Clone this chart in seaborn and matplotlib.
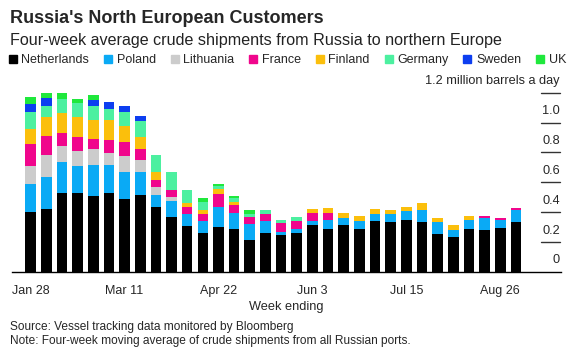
import seaborn as sns
import matplotlib.pyplot as plt
import pandas as pd
from matplotlib.lines import Line2D

# four-week average crude shipments, million barrels a day
countries = ["Netherlands", "Poland", "Lithuania", "France", "Finland", "Germany", "Sweden", "UK"]
colors = ["#000000", "#0aaaf5", "#cccccc", "#f0068c", "#fbbf0c", "#4cf0a0", "#0d3ef0", "#1fe83c"]

netherlands = [0.400, 0.422, 0.531, 0.531, 0.509, 0.531, 0.489, 0.513, 0.435, 0.369, 0.309, 0.262,
               0.302, 0.291, 0.213, 0.262, 0.245, 0.262, 0.315, 0.291, 0.315, 0.291, 0.338, 0.333,
               0.349, 0.333, 0.255, 0.235, 0.291, 0.280, 0.295, 0.333]
poland = [0.187, 0.211, 0.202, 0.180, 0.209, 0.187, 0.180, 0.155, 0.078, 0.107, 0.080, 0.078,
          0.133, 0.104, 0.105, 0.078, 0.024, 0.025, 0.025, 0.055, 0.047, 0.047, 0.051, 0.055,
          0.056, 0.080, 0.078, 0.049, 0.055, 0.080, 0.056, 0.080]
lithuania = [0.125, 0.153, 0.111, 0.102, 0.102, 0.077, 0.107, 0.080, 0.053, 0.029, 0, 0,
             0, 0, 0, 0, 0, 0, 0, 0, 0, 0, 0, 0,
             0, 0, 0, 0, 0, 0, 0, 0]
france = [0.142, 0.122, 0.089, 0.089, 0.071, 0.089, 0.091, 0.076, 0.053, 0.044, 0.047, 0.049,
          0.089, 0.053, 0.047, 0.049, 0.056, 0.055, 0.055, 0.049, 0, 0, 0, 0,
          0, 0, 0, 0, 0, 0.012, 0.013, 0.013]
finland = [0.105, 0.127, 0.131, 0.133, 0.127, 0.133, 0.109, 0.080, 0.049, 0, 0.025, 0.025,
           0.033, 0.020, 0, 0, 0, 0, 0.025, 0.031, 0.033, 0.035, 0.031, 0.025,
           0.027, 0.049, 0.031, 0.033, 0.027, 0, 0, 0]
germany = [0.111, 0.078, 0.093, 0.093, 0.091, 0.077, 0.093, 0.109, 0.118, 0.120, 0.089, 0.055,
           0.020, 0.025, 0.020, 0.025, 0.022, 0.023, 0, 0, 0, 0, 0, 0,
           0, 0, 0, 0, 0, 0, 0, 0]
sweden = [0.056, 0.053, 0, 0, 0.040, 0.045, 0.045, 0.033, 0, 0, 0, 0,
          0, 0, 0, 0, 0, 0, 0, 0, 0, 0, 0, 0,
          0, 0, 0, 0, 0, 0, 0, 0]
uk = [0.042, 0.053, 0.057, 0.033, 0.036, 0, 0, 0, 0, 0, 0, 0.023,
      0.013, 0.015, 0.029, 0, 0, 0, 0, 0, 0, 0, 0, 0,
      0, 0, 0, 0, 0, 0, 0, 0]

tick_weeks = [0, 6, 12, 18, 24, 30]
tick_labels = ["Jan 28", "Mar 11", "Apr 22", "Jun 3", "Jul 15", "Aug 26"]
y_levels = [0.2, 0.4, 0.6, 0.8, 1.0, 1.2]
y_labels = ["0.2", "0.4", "0.6", "0.8", "1.0", "1.2 million barrels a day"]

series = [netherlands, poland, lithuania, france, finland, germany, sweden, uk]
rows = []
for name, vals in zip(countries, series):
    for i, v in enumerate(vals):
        rows.append({"week": i, "country": name, "value": v})
df = pd.DataFrame(rows)

sns.set_style("white")
plt.rcParams["font.family"] = ["Liberation Sans", "DejaVu Sans"]

fig = plt.figure(figsize=(5.76, 3.55), dpi=100)
ax = fig.add_axes([12 / 576, 1 - 272 / 355, 549 / 576, 179.3 / 355])

# seaborn stacks the first hue level on top, so feed the order reversed
sns.histplot(data=df, x="week", weights="value", hue="country",
             hue_order=countries[::-1], palette=colors[::-1],
             multiple="stack", discrete=True, shrink=0.68,
             linewidth=0, alpha=1, legend=False, ax=ax)

ax.set_xlim(-1.19, 33.88)
ax.set_ylim(0, 1.2)
ax.set_yticks([])
ax.set_ylabel("")
for s in ["top", "right", "left"]:
    ax.spines[s].set_visible(False)
ax.spines["bottom"].set_color("black")
ax.spines["bottom"].set_linewidth(1)

ax.set_xticks(tick_weeks, tick_labels, fontsize=9)
ax.tick_params(axis="x", length=4, width=1, color="black", pad=5.5)
ax.set_xlabel("Week ending", fontsize=9.2, labelpad=3)

# short value markers on the right with labels sitting above them
ytr = ax.get_yaxis_transform()
ax.annotate("0", xy=(0.998, 0), xycoords=ytr, xytext=(0, 4), textcoords="offset points",
            ha="right", va="bottom", fontsize=9.2)
for v, lab in zip(y_levels, y_labels):
    ax.plot([0.9636, 0.998], [v, v], transform=ytr, color="#333333", lw=1, clip_on=False)
    ax.annotate(lab, xy=(0.998, v), xycoords=ytr, xytext=(0, 4), textcoords="offset points",
                ha="right", va="bottom", fontsize=9.2)

fig.text(10 / 576, 1 - 23 / 355, "Russia's North European Customers",
         fontsize=13, fontweight="bold", va="baseline")
fig.text(10 / 576, 1 - 45 / 355, "Four-week average crude shipments from Russia to northern Europe",
         fontsize=11.6, va="baseline", color="#222222")

handles = [Line2D([], [], marker="s", linestyle="", markersize=6, color=c) for c in colors]
fig.legend(handles, countries, loc="center left", bbox_to_anchor=(5 / 576, 1 - 60 / 355),
           ncol=8, frameon=False, fontsize=9, handletextpad=0.1, columnspacing=0.9,
           handlelength=1.2, borderaxespad=0, borderpad=0)

fig.text(10 / 576, 1 - 327 / 355, "Source: Vessel tracking data monitored by Bloomberg",
         fontsize=8.6, va="center")
fig.text(10 / 576, 1 - 341 / 355, "Note: Four-week moving average of crude shipments from all Russian ports.",
         fontsize=8.6, va="center")

fig.savefig("out.png", dpi=100)
